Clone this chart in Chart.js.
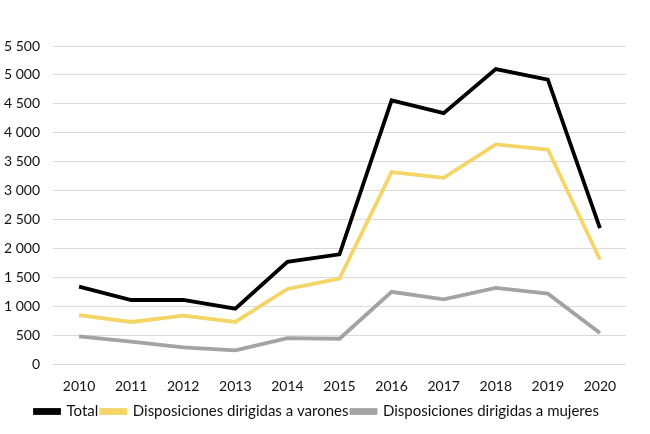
<!DOCTYPE html>
<html lang="es">
<head>
    <meta charset="UTF-8">
    <title>Disposiciones 2010-2020</title>
    <script src="https://cdn.jsdelivr.net/npm/chart.js"></script>
    <style>
        html, body { margin: 0; padding: 0; background: #fff; }
        #wrap { width: 650px; height: 434px; position: relative; }
    </style>
</head>
<body>
    <div id="wrap">
        <canvas id="chart"></canvas>
    </div>

    <script>
        // Datos
        const years = ['2010', '2011', '2012', '2013', '2014', '2015', '2016', '2017', '2018', '2019', '2020'];
        const total = [1340, 1110, 1110, 960, 1770, 1900, 4560, 4340, 5100, 4920, 2350];
        const varones = [850, 730, 840, 730, 1300, 1480, 3320, 3220, 3800, 3710, 1810];
        const mujeres = [480, 390, 290, 240, 450, 440, 1250, 1120, 1320, 1220, 540];

        const fontFamily = 'Lato, "Open Sans", sans-serif';

        function fmt(v) {
            return String(v).replace(/\B(?=(\d{3})+(?!\d))/g, ' ');
        }

        // la leyenda del original empieza un poco a la izquierda, no centrada
        const legendShift = {
            id: 'legendShift',
            afterLayout(chart) {
                if (chart.legend) chart.legend.left = 32;
            }
        };

        const ctx = document.getElementById('chart').getContext('2d');
        new Chart(ctx, {
            type: 'line',
            data: {
                labels: years,
                datasets: [
                    {
                        label: 'Total',
                        data: total,
                        borderColor: '#000000',
                        backgroundColor: '#000000',
                        borderWidth: 3.8,
                        pointRadius: 0,
                        tension: 0
                    },
                    {
                        label: 'Disposiciones dirigidas a varones',
                        data: varones,
                        borderColor: '#f4d567',
                        backgroundColor: '#f4d567',
                        borderWidth: 3.8,
                        pointRadius: 0,
                        tension: 0
                    },
                    {
                        label: 'Disposiciones dirigidas a mujeres',
                        data: mujeres,
                        borderColor: '#a3a3a3',
                        backgroundColor: '#a3a3a3',
                        borderWidth: 3.8,
                        pointRadius: 0,
                        tension: 0
                    }
                ]
            },
            options: {
                responsive: true,
                maintainAspectRatio: false,
                animation: false,
                layout: {
                    padding: { left: 2, right: 24, top: 46, bottom: 5 }
                },
                plugins: {
                    legend: {
                        position: 'bottom',
                        align: 'start',
                        labels: {
                            boxWidth: 24,
                            boxHeight: 3,
                            padding: 3,
                            color: '#111',
                            font: { family: fontFamily, size: 15 }
                        }
                    },
                    tooltip: { enabled: false }
                },
                scales: {
                    x: {
                        offset: true,
                        grid: { display: false },
                        border: { display: false },
                        ticks: {
                            color: '#111',
                            padding: 6,
                            font: { family: fontFamily, size: 14 }
                        }
                    },
                    y: {
                        min: 0,
                        max: 5500,
                        afterFit(scale) { scale.width = 51; },
                        ticks: {
                            stepSize: 500,
                            color: '#111',
                            padding: 13,
                            font: { family: fontFamily, size: 14 },
                            callback: function (v) { return fmt(v); }
                        },
                        grid: {
                            color: '#d9d9d9',
                            lineWidth: 1,
                            drawTicks: false
                        },
                        border: { display: false }
                    }
                }
            },
            plugins: [legendShift]
        });
    </script>
</body>
</html>
